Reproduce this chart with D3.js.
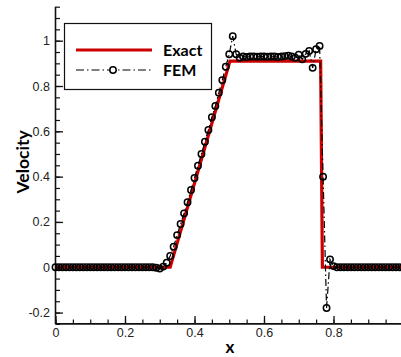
<!DOCTYPE html>
<html>
<head>
<meta charset="utf-8">
<script src="https://cdn.jsdelivr.net/npm/d3@7"></script>
<style>
  html, body { margin: 0; padding: 0; background: #fff; }
  svg { display: block; }
  .tick text { font-family: "Liberation Sans", Arial, sans-serif; font-size: 12.5px; fill: #222; }
</style>
</head>
<body>
<svg id="chart" width="401" height="357"></svg>
<script>
// Exact solution: flat, linear ramp, plateau, sharp drop
const exactX = [0, 0.33, 0.502, 0.763, 0.768, 1.0];
const exactV = [0, 0, 0.91, 0.91, 0, 0];

// FEM nodal values on a uniform grid (h = 0.01)
const femX = d3.range(0, 101).map(i => i / 100);
const femV = [
  0, 0, 0, 0, 0, 0, 0, 0, 0, 0,                       // 0.00 - 0.09
  0, 0, 0, 0, 0, 0, 0, 0, 0, 0,                       // 0.10 - 0.19
  0, 0, 0, 0, 0, 0, 0, 0, 0, -0.002,                  // 0.20 - 0.29
  -0.006, 0.003, 0.02, 0.05, 0.091, 0.142, 0.191, 0.238, 0.287, 0.341, // 0.30 - 0.39
  0.394, 0.448, 0.5, 0.554, 0.606, 0.662, 0.712, 0.77, 0.826, 0.885,   // 0.40 - 0.49
  0.94, 1.02, 0.94, 0.925, 0.93, 0.928, 0.93, 0.93, 0.929, 0.93,       // 0.50 - 0.59
  0.93, 0.929, 0.93, 0.93, 0.928, 0.93, 0.932, 0.934, 0.93, 0.925,     // 0.60 - 0.69
  0.938, 0.918, 0.942, 0.955, 0.88, 0.962, 0.977, 0.4, -0.18, 0.035,   // 0.70 - 0.79
  0.005, 0, 0, 0, 0, 0, 0, 0, 0, 0,                   // 0.80 - 0.89
  0, 0, 0, 0, 0, 0, 0, 0, 0, 0,                       // 0.90 - 0.99
  0                                                   // 1.00
];

const xMajor = [0, 0.2, 0.4, 0.6, 0.8];
const xMajorLabels = ["0", "0.2", "0.4", "0.6", "0.8"];
const yMajor = [-0.2, 0, 0.2, 0.4, 0.6, 0.8, 1.0];
const yMajorLabels = ["-0.2", "0", "0.2", "0.4", "0.6", "0.8", "1"];
const xMinor = d3.range(0, 20).map(i => i * 0.05);
const yMinor = d3.range(-5, 24).map(i => i * 0.05);

const legendItems = ["Exact", "FEM"];

const svg = d3.select("#chart");

const x = d3.scaleLinear().domain([0, 1]).range([55.5, 403]);
const y = d3.scaleLinear().domain([-0.25, 1.15]).range([323.9, 6.7]);

const axisColor = "#111";

// minor ticks (inward)
svg.append("g")
  .attr("transform", `translate(0,${y(-0.25)})`)
  .call(d3.axisBottom(x).tickValues(xMinor).tickSize(-4.5).tickFormat(""))
  .call(g => g.select(".domain").remove())
  .call(g => g.selectAll("line").attr("stroke", axisColor).attr("stroke-width", 1.2));

svg.append("g")
  .attr("transform", `translate(${x(0)},0)`)
  .call(d3.axisLeft(y).tickValues(yMinor).tickSize(-4.5).tickFormat(""))
  .call(g => g.select(".domain").remove())
  .call(g => g.selectAll("line").attr("stroke", axisColor).attr("stroke-width", 1.2));

// major ticks with labels
svg.append("g")
  .attr("transform", `translate(0,${y(-0.25)})`)
  .call(d3.axisBottom(x).tickValues(xMajor).tickSize(-8).tickPadding(4)
    .tickFormat((d, i) => xMajorLabels[i]))
  .call(g => g.select(".domain").attr("stroke", axisColor).attr("stroke-width", 1.6)
    .attr("d", `M${x(0)},0H401`))
  .call(g => g.selectAll("line").attr("stroke", axisColor).attr("stroke-width", 1.3));

svg.append("g")
  .attr("transform", `translate(${x(0)},0)`)
  .call(d3.axisLeft(y).tickValues(yMajor).tickSize(-7.5).tickPadding(5.5)
    .tickFormat((d, i) => yMajorLabels[i]))
  .call(g => g.select(".domain").attr("stroke", axisColor).attr("stroke-width", 1.6)
    .attr("d", `M0,${y(-0.25)}V${y(1.15)}`))
  .call(g => g.selectAll("line").attr("stroke", axisColor).attr("stroke-width", 1.3));

// axis titles
svg.append("text")
  .attr("transform", `translate(29,${y(0.465)}) rotate(-90)`)
  .attr("text-anchor", "middle")
  .style("font-family", "Lato, 'Open Sans', sans-serif")
  .style("font-weight", "bold")
  .style("font-size", "17.5px")
  .text("Velocity");

svg.append("text")
  .attr("x", 230).attr("y", 353)
  .attr("text-anchor", "middle")
  .style("font-family", "Lato, 'Open Sans', sans-serif")
  .style("font-weight", "bold")
  .style("font-size", "17px")
  .text("x");

// exact solution
const exactLine = d3.line().x((d, i) => x(exactX[i])).y(d => y(d));
svg.append("path")
  .datum(exactV)
  .attr("d", exactLine)
  .attr("fill", "none")
  .attr("stroke", "#cc0000")
  .attr("stroke-width", 3.2)
  .attr("stroke-linejoin", "miter");

// FEM solution: dash-dot line with circle markers
const femLine = d3.line().x((d, i) => x(femX[i])).y(d => y(d));
svg.append("path")
  .datum(femV)
  .attr("d", femLine)
  .attr("fill", "none")
  .attr("stroke", "#000")
  .attr("stroke-width", 1.2)
  .attr("stroke-dasharray", "7,3,1.5,3");

svg.append("g")
  .selectAll("circle")
  .data(femV)
  .join("circle")
  .attr("cx", (d, i) => x(femX[i]))
  .attr("cy", d => y(d))
  .attr("r", 3.2)
  .attr("fill", "none")
  .attr("stroke", "#000")
  .attr("stroke-width", 1.5);

// legend
const lg = svg.append("g");
lg.append("rect")
  .attr("x", 64.5).attr("y", 23.5).attr("width", 147).attr("height", 66)
  .attr("fill", "#fff").attr("stroke", "#111").attr("stroke-width", 1.2);
lg.append("line")
  .attr("x1", 76).attr("x2", 152).attr("y1", 50).attr("y2", 50)
  .attr("stroke", "#cc0000").attr("stroke-width", 3.2);
lg.append("line")
  .attr("x1", 76).attr("x2", 152).attr("y1", 70).attr("y2", 70)
  .attr("stroke", "#000").attr("stroke-width", 1.2)
  .attr("stroke-dasharray", "8,3,1.5,3");
lg.append("circle")
  .attr("cx", 113).attr("cy", 70).attr("r", 3.2)
  .attr("fill", "#fff").attr("stroke", "#000").attr("stroke-width", 1.5);
lg.selectAll("text.lab")
  .data(legendItems)
  .join("text")
  .attr("class", "lab")
  .attr("x", 163)
  .attr("y", (d, i) => 56 + i * 20)
  .style("font-family", "Lato, 'Open Sans', sans-serif")
  .style("font-weight", "bold")
  .style("font-size", "16px")
  .text(d => d);
</script>
</body>
</html>
